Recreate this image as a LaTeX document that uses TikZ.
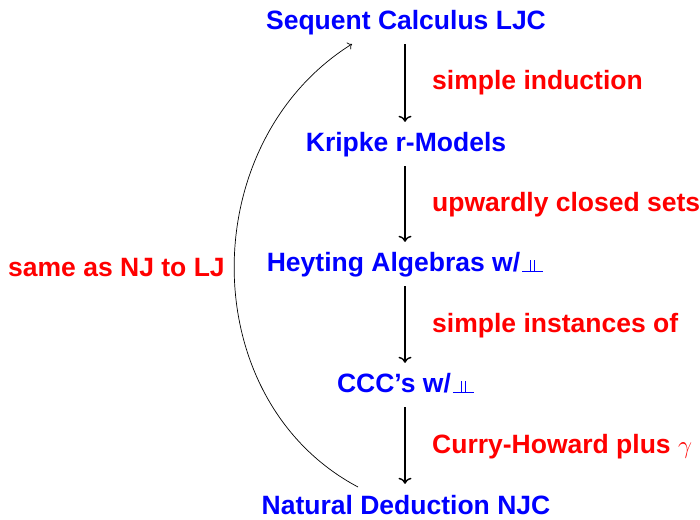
\documentclass[tikz,border=0pt]{standalone}
\usepackage{fontspec}
\setmainfont{Liberation Sans}
\usetikzlibrary{arrows.meta}
\definecolor{nodeblue}{RGB}{0,0,255}
\definecolor{labred}{RGB}{255,0,0}
\newcommand{\dbot}{\kern2pt\rlap{\rule{21pt}{1pt}}\kern8pt\rule{1pt}{11.5pt}\kern3pt\rule{1pt}{11.5pt}\kern8pt}
\begin{document}
\begin{tikzpicture}[x=1pt,y=1pt,
  every node/.style={font=\fontsize{26.5}{30}\selectfont\bfseries},
  stage/.style={text=nodeblue, anchor=base, text height=19pt, text depth=5pt, inner ysep=9pt, inner xsep=0pt},
  lab/.style={text=labred, anchor=base west, inner sep=0pt},
  step arrow/.style={-{To[length=6pt,width=13pt]}, line width=1.4pt, shorten >=2pt},
  back arrow/.style={-{To[length=4pt,width=8pt]}, line width=0.7pt}]
\useasboundingbox (0,0) rectangle (700,519);
\node[stage] (lj)  at (406,489) {Sequent Calculus LJC};
\node[stage] (kr)  at (406,367) {Kripke r-Models};
\node[stage] (ha)  at (405,247) {Heyting Algebras w/\dbot};
\node[stage] (ccc) at (405.5,126) {CCC's w/\dbot};
\node[stage] (nd)  at (406,5) {Natural Deduction NJC};
\draw[step arrow] (lj.south -| 405,0) -- (kr.north -| 405,0);
\draw[step arrow] (kr.south -| 405,0) -- (ha.north -| 405,0);
\draw[step arrow] (ha.south -| 405,0) -- (ccc.north -| 405,0);
\draw[step arrow] (ccc.south -| 405,0) -- (nd.north -| 405,0);
\node[lab] (l1) at (432,429) {simple induction};
\node[lab] (l2) at (432,307) {upwardly closed sets};
\node[lab] (l3) at (432,186) {simple instances of};
\node[lab] (l4) at (432,66) {Curry-Howard plus $\gamma$};
\node[lab] (l5) at (8,242) {same as NJ to LJ};
\coordinate (cs) at (358,32);
\coordinate (ce) at (352,475);
\draw[back arrow] (cs) .. controls (194,119) and (194,376) .. (ce);
\end{tikzpicture}
\end{document}
